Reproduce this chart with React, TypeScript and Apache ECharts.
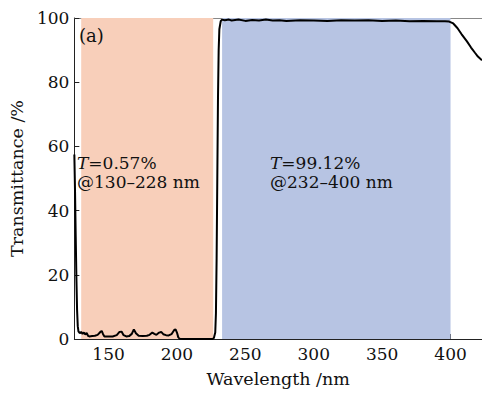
import React, { useEffect, useRef } from "react";
import * as echarts from "echarts";

const xTickValues = [150, 200, 250, 300, 350, 400];

// Transmittance curve [wavelength nm, T %]
const wavelength = [
  125, 125.5, 126, 126.5, 127, 127.5, 128, 129, 130, 131, 132, 133, 134, 135, 136, 138, 140, 142, 144, 145, 146, 147,
  150, 153, 156, 158, 159.5, 161, 163, 165, 167, 168.5, 170, 172, 175, 178, 180, 182, 183.5, 185, 187, 188.5, 190,
  192, 194, 196, 198, 199, 200, 201, 202, 205, 210, 220, 226, 227, 228, 228.5, 229, 229.5, 230, 230.5, 231, 232, 233,
  235, 238, 240, 245, 250, 255, 260, 265, 270, 275, 280, 290, 300, 310, 320, 330, 340, 350, 360, 370, 380, 390, 396,
  399, 402, 405, 408, 412, 415, 418, 420, 423,
];
const transmittance = [
  57.5, 46, 32, 19, 9, 4, 2.4, 1.8, 2.2, 1.6, 2.0, 1.4, 1.9, 1.0, 0.8, 0.9, 1.0, 1.3, 2.2, 2.5, 1.5, 0.8,
  0.8, 0.8, 1.2, 2.2, 2.3, 1.2, 0.8, 0.9, 1.6, 3.0, 1.8, 1.0, 0.9, 1.0, 1.3, 2.0, 1.6, 1.3, 2.0, 2.2, 1.5,
  1.2, 1.1, 1.5, 2.8, 3.0, 2.0, 0.5, 0.1, 0, 0, 0, 0, 0.3, 2, 8, 25, 50, 75, 90, 96.5, 99, 99.5,
  99.3, 99.5, 99.2, 99.5, 99.1, 99.4, 99.2, 99.5, 99.2, 99.3, 99.1, 99.3, 99.2, 99.1, 99.3, 99.2, 99.3, 99.1, 99.2, 99.0, 99.1, 99.0, 99.0,
  98.9, 98.3, 96.9, 95.0, 92.7, 90.8, 89.1, 88.0, 86.8,
];

// Shaded bands [start nm, end nm]
const stopBand = [130, 226.5];
const passBand = [233, 400];

const stopLabel = ["T", "=0.57%", "@130–228 nm"];
const passLabel = ["T", "=99.12%", "@232–400 nm"];

const FONT = "DejaVu Serif";

export default function App() {
  const ref = useRef<HTMLDivElement>(null);
  useEffect(() => {
    document.body.style.margin = "0";
    if (!ref.current) return;
    const chart = echarts.init(ref.current, undefined, { renderer: "svg" });
    const data = wavelength.map((w, i) => [w, transmittance[i]]);
    const rich = {
      i: { fontFamily: FONT, fontStyle: "italic", fontSize: 17, fill: "#111", lineHeight: 19 },
      n: { fontFamily: FONT, fontSize: 17, fill: "#111", lineHeight: 19 },
    };
    chart.setOption({
      animation: false,
      backgroundColor: "#fff",
      grid: { left: 68, top: 18, right: 0, bottom: 56, containLabel: false },
      xAxis: [
        {
          type: "value",
          min: 125,
          max: 423,
          name: "Wavelength /nm",
          nameLocation: "middle",
          nameGap: 31,
          nameTextStyle: { fontFamily: FONT, fontSize: 17.5, color: "#111" },
          axisLine: { show: true, lineStyle: { color: "#222", width: 1 } },
          axisTick: { show: true, inside: true, length: 5, customValues: xTickValues, lineStyle: { color: "#222" } },
          axisLabel: { customValues: xTickValues, fontFamily: FONT, fontSize: 17, color: "#111", margin: 6 },
          splitLine: { show: false },
        },
        {
          type: "value",
          position: "top",
          min: 125,
          max: 423,
          axisLine: { show: true, lineStyle: { color: "#888", width: 1 } },
          axisTick: { show: false },
          axisLabel: { show: false },
          splitLine: { show: false },
        },
      ],
      yAxis: {
        type: "value",
        min: 0,
        max: 100,
        interval: 20,
        name: "Transmittance /%",
        nameLocation: "middle",
        nameGap: 40,
        nameTextStyle: { fontFamily: FONT, fontSize: 17.5, color: "#111" },
        axisLine: { show: true, lineStyle: { color: "#222", width: 1 } },
        axisTick: { show: true, inside: true, length: 5, lineStyle: { color: "#222" } },
        axisLabel: { fontFamily: FONT, fontSize: 17, color: "#111", margin: 5 },
        splitLine: { show: false },
      },
      series: [
        {
          type: "line",
          data,
          showSymbol: false,
          symbol: "none",
          smooth: false,
          lineStyle: { color: "#000", width: 2 },
          z: 5,
          markArea: {
            silent: true,
            data: [
              [
                { xAxis: stopBand[0], yAxis: 0, itemStyle: { color: "#f8cfba" } },
                { xAxis: stopBand[1], yAxis: 100 },
              ],
              [
                { xAxis: passBand[0], yAxis: 0, itemStyle: { color: "#b7c4e3" } },
                { xAxis: passBand[1], yAxis: 100 },
              ],
            ],
          },
        },
      ],
      graphic: [
        {
          type: "text",
          left: 79,
          top: 26,
          style: { text: "(a)", fontFamily: FONT, fontSize: 18, fill: "#111" },
          z: 10,
        },
        {
          type: "text",
          left: 77,
          top: 154,
          style: { text: `{i|${stopLabel[0]}}{n|${stopLabel[1]}}\n{n|${stopLabel[2]}}`, rich },
          z: 10,
        },
        {
          type: "text",
          left: 270,
          top: 154,
          style: { text: `{i|${passLabel[0]}}{n|${passLabel[1]}}\n{n|${passLabel[2]}}`, rich },
          z: 10,
        },
      ],
    });
    return () => chart.dispose();
  }, []);
  return <div ref={ref} style={{ width: 482, height: 395 }} />;
}
